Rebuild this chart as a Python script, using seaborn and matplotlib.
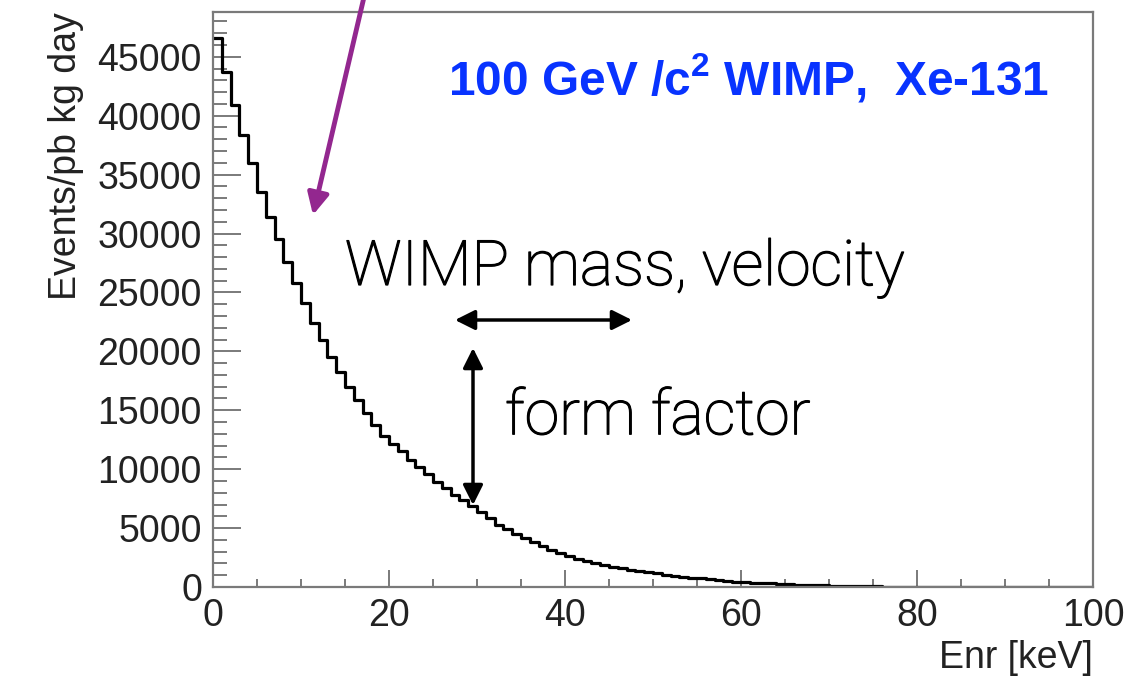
import numpy as np
import pandas as pd
import matplotlib
matplotlib.use('Agg')
import matplotlib.pyplot as plt
import matplotlib.patheffects as pe
from matplotlib.ticker import MultipleLocator
import seaborn as sns

# Recoil spectrum, 1 keV bins from 0 to 100 keV
bin_edges = list(range(0, 101))
events = [
    46600, 43700, 40900, 38400, 36000, 33500, 31400, 29500, 27600, 25800,
    24100, 22400, 20970, 19550, 18280, 17000, 15870, 14750, 13750, 12820,
    12100, 11500, 10800, 10150, 9550, 8950, 8400, 7850, 7350, 6900,
    6400, 5850, 5300, 4900, 4500, 4150, 3800, 3450, 3150, 2850,
    2600, 2400, 2200, 2000, 1850, 1700, 1580, 1460, 1350, 1250,
    1150, 1050, 960, 880, 800, 740, 680, 600, 520, 460,
    420, 380, 340, 300, 260, 230, 200, 175, 150, 130,
    110, 95, 80, 68, 56, 46, 38, 30, 24, 19,
    15, 12, 9, 7, 5, 4, 3, 2, 2, 1,
    1, 1, 0, 0, 0, 0, 0, 0, 0, 0,
]
x_ticks = [0, 20, 40, 60, 80, 100]
y_ticks = [0, 5000, 10000, 15000, 20000, 25000, 30000, 35000, 40000, 45000]

df = pd.DataFrame({
    'Enr': [(a + b) / 2 for a, b in zip(bin_edges[:-1], bin_edges[1:])],
    'events': events,
})

sns.set_style('white')
plt.rcParams['font.family'] = ['Liberation Sans', 'DejaVu Sans']
plt.rcParams['mathtext.fontset'] = 'custom'
plt.rcParams['mathtext.bf'] = 'Liberation Sans:bold'
plt.rcParams['mathtext.rm'] = 'Liberation Sans'

fig = plt.figure(figsize=(11.46, 6.76), dpi=100)
ax = fig.add_axes([213 / 1146, 89 / 676, 880 / 1146, 575 / 676])

sns.histplot(data=df, x='Enr', weights='events', bins=bin_edges,
             element='step', fill=False, color='black', linewidth=2.3, ax=ax)

ax.set_xlim(0, 100)
ax.set_ylim(0, 48800)
ax.set_xticks(x_ticks)
ax.set_yticks(y_ticks)
ax.xaxis.set_minor_locator(MultipleLocator(5))
ax.yaxis.set_minor_locator(MultipleLocator(1000))

for s in ax.spines.values():
    s.set_color('#7a7a7a')
    s.set_linewidth(1.6)

ax.tick_params(axis='both', which='both', direction='in', colors='#7a7a7a',
               labelcolor='#222222', labelsize=27, width=1.4,
               bottom=True, left=True, top=False, right=False)
ax.tick_params(axis='y', which='major', length=20, pad=8)
ax.tick_params(axis='y', which='minor', length=10)
ax.tick_params(axis='x', which='major', length=12, pad=8)
ax.tick_params(axis='x', which='minor', length=6)

ax.set_xlabel('Enr [keV]', fontsize=27, color='#222222', loc='right', labelpad=4)
ax.set_ylabel('Events/pb kg day', fontsize=27, color='#222222', loc='top', labelpad=10)

# annotations
ax.text(448, 676 - 78, r'100 GeV /c$^{\mathbf{2}}$ WIMP,  Xe-131', transform=None,
        fontsize=34.5, fontweight='bold', color='#0833ff', va='center', ha='left')
thicker = [pe.withStroke(linewidth=0.9, foreground='black')]
ax.text(345, 676 - 268, 'WIMP mass, velocity', transform=None,
        fontsize=45, fontfamily=['Roboto', 'DejaVu Sans'], fontweight='light',
        color='black', va='center', ha='left', path_effects=thicker)
ax.text(505, 676 - 417, 'form factor', transform=None,
        fontsize=45, fontfamily=['Roboto', 'DejaVu Sans'], fontweight='light',
        color='black', va='center', ha='left', path_effects=thicker)

arrow_kw = dict(arrowstyle='<|-|>', color='black', lw=2.5, mutation_scale=30,
                shrinkA=0, shrinkB=0)
ax.annotate('', xy=(455, 676 - 320), xytext=(632, 676 - 320),
            xycoords='figure pixels', textcoords='figure pixels',
            arrowprops=arrow_kw, annotation_clip=False)
ax.annotate('', xy=(473, 676 - 348), xytext=(473, 676 - 505),
            xycoords='figure pixels', textcoords='figure pixels',
            arrowprops=arrow_kw, annotation_clip=False)
ax.annotate('', xy=(313, 676 - 215), xytext=(368, 676 + 20),
            xycoords='figure pixels', textcoords='figure pixels',
            arrowprops=dict(arrowstyle='-|>', color='#93278f', lw=3.5,
                            mutation_scale=32, shrinkA=0, shrinkB=0),
            annotation_clip=False)

fig.savefig('out.png', dpi=100)
